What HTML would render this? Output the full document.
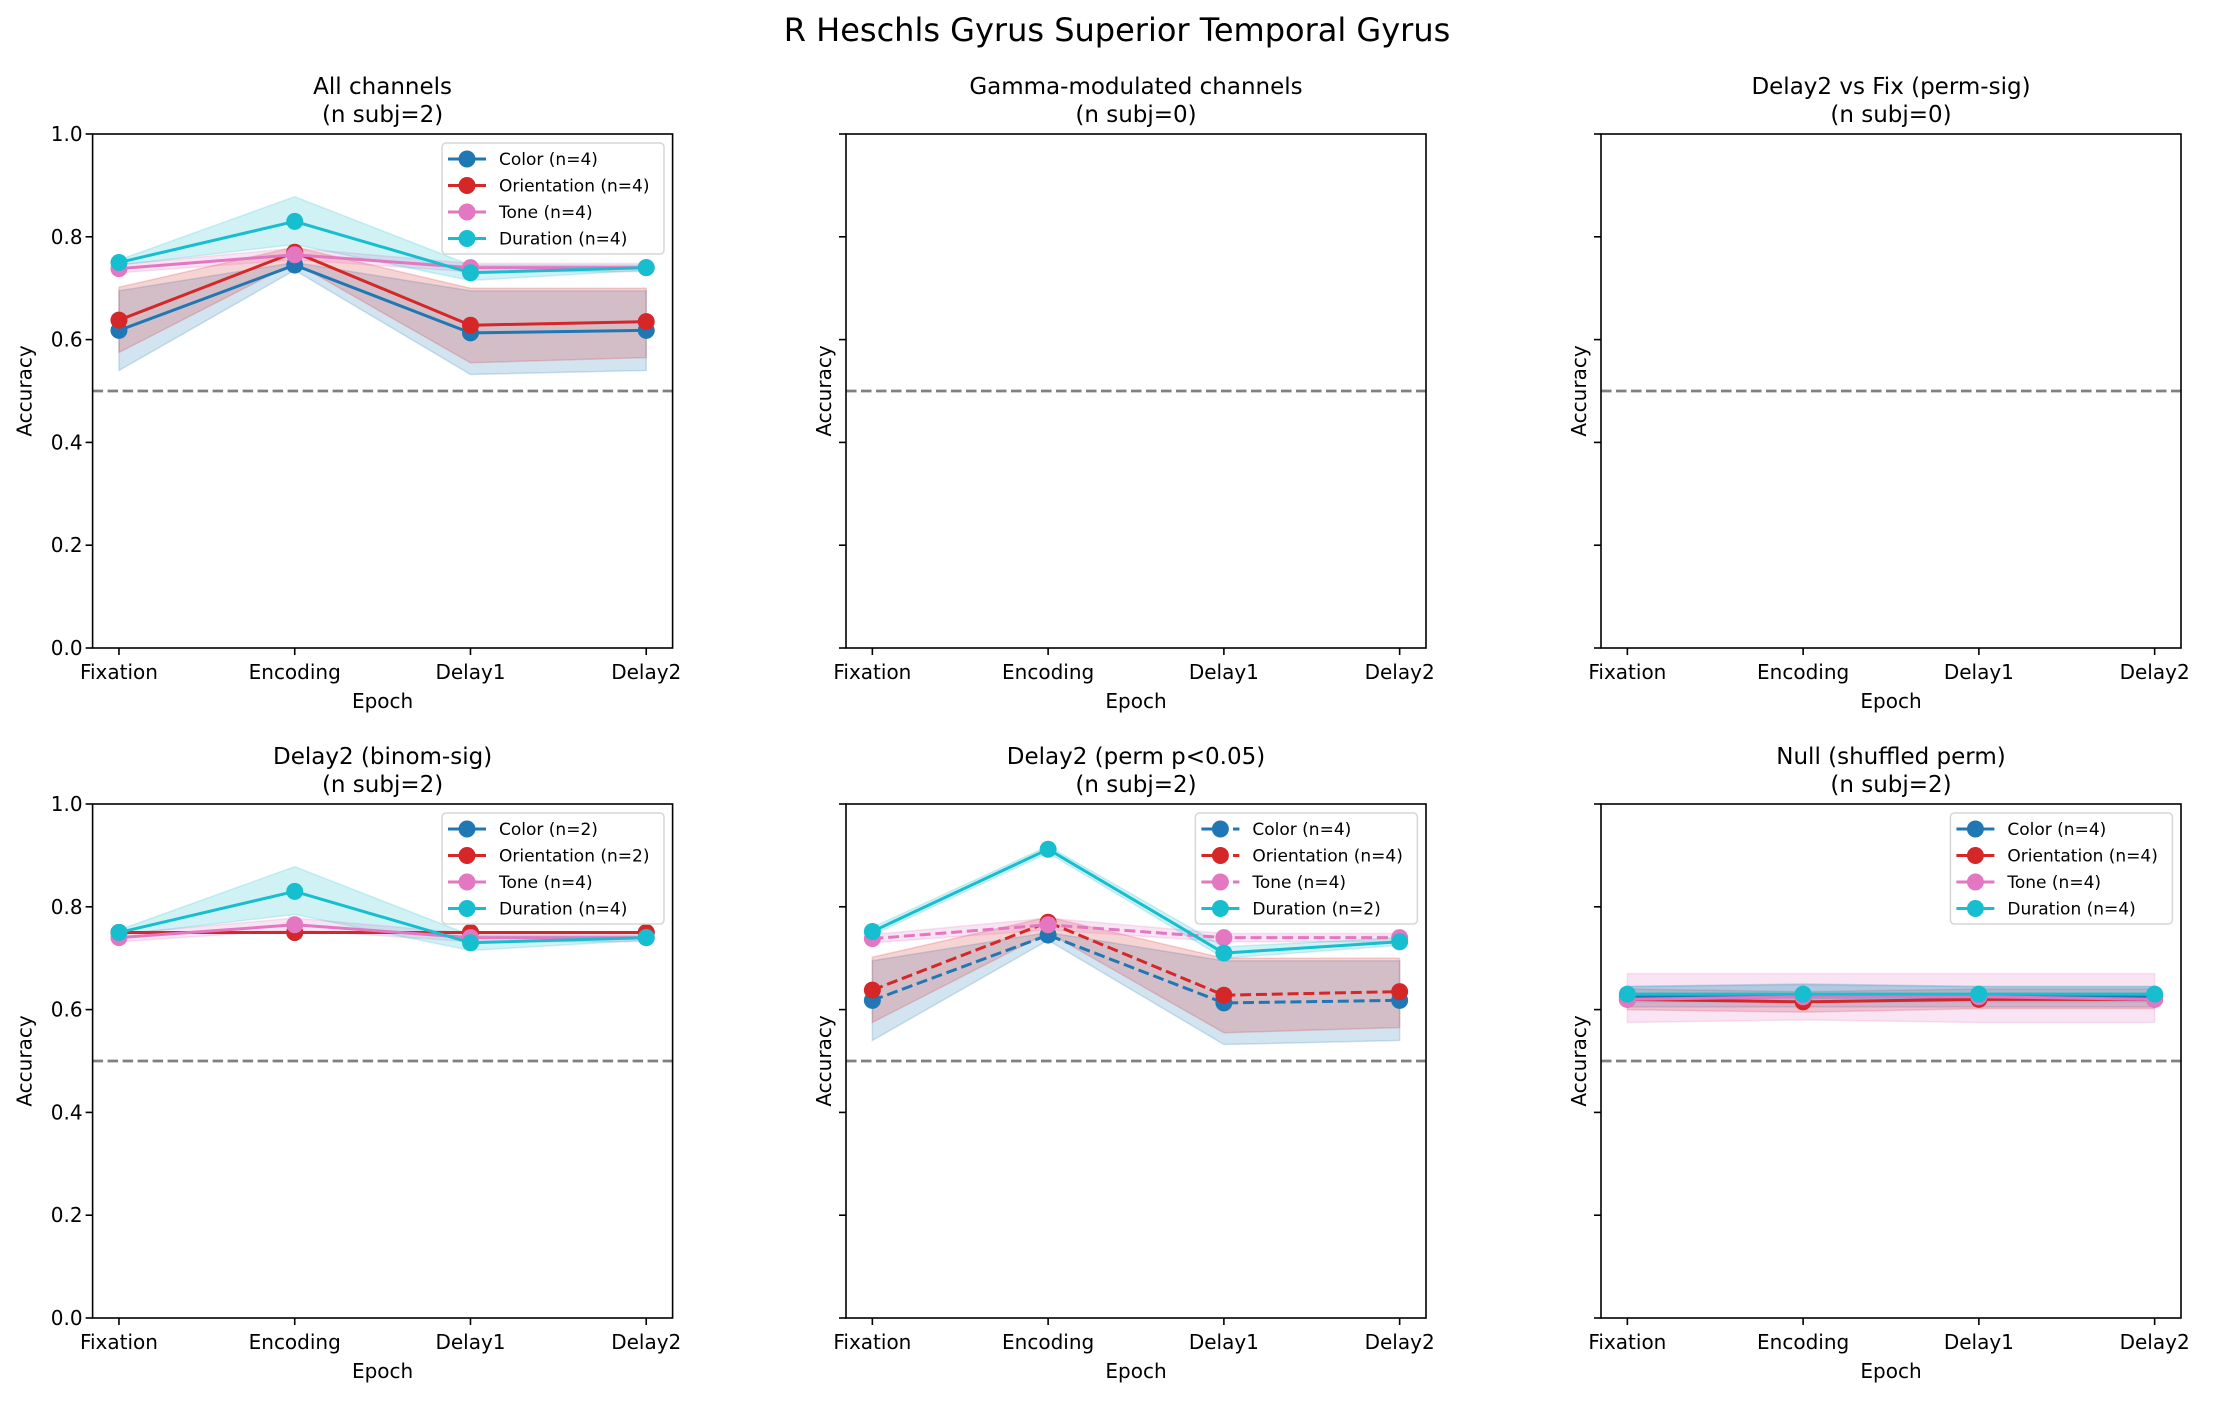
<!DOCTYPE html>
<html><head><meta charset="utf-8"><style>
html,body{margin:0;padding:0;background:#fff}
svg text{font-family:"DejaVu Sans","Liberation Sans",sans-serif;fill:#000}
</style></head><body>
<svg id="fig" width="2235" height="1397" viewBox="0 0 2235 1397" xmlns="http://www.w3.org/2000/svg">
<text x="1117" y="41" text-anchor="middle" font-size="32">R Heschls Gyrus Superior Temporal Gyrus</text>
</svg>
<script>
const epochs = ["Fixation","Encoding","Delay1","Delay2"];
const yTicks = [0.0,0.2,0.4,0.6,0.8,1.0];
const chance = 0.5;
const seriesNames = ["Color","Orientation","Tone","Duration"];
const colors = ["#1f77b4","#d62728","#e377c2","#17becf"];
// Panel 1: All channels
const p1Mean = [[0.618,0.745,0.613,0.618],[0.638,0.770,0.628,0.635],[0.738,0.765,0.740,0.740],[0.750,0.830,0.730,0.740]];
const p1Lo = [[0.540,0.735,0.532,0.540],[0.575,0.750,0.555,0.565],[0.730,0.755,0.732,0.732],[0.745,0.785,0.715,0.735]];
const p1Hi = [[0.695,0.750,0.695,0.695],[0.702,0.780,0.700,0.700],[0.746,0.778,0.748,0.748],[0.755,0.878,0.745,0.745]];
const p1N = [4,4,4,4];
// Panel 4: Delay2 binom-sig
const p4Mean = [[0.750,0.750,0.750,0.750],[0.750,0.750,0.750,0.750],[0.740,0.765,0.740,0.740],[0.750,0.830,0.730,0.740]];
const p4Lo = [[0.750,0.750,0.750,0.750],[0.750,0.750,0.750,0.750],[0.732,0.755,0.732,0.732],[0.745,0.785,0.715,0.735]];
const p4Hi = [[0.750,0.750,0.750,0.750],[0.750,0.750,0.750,0.750],[0.748,0.778,0.748,0.748],[0.755,0.878,0.745,0.745]];
const p4N = [2,2,4,4];
// Panel 5: Delay2 perm p<0.05
const p5Mean = [[0.618,0.745,0.613,0.618],[0.638,0.770,0.628,0.635],[0.738,0.765,0.740,0.740],[0.752,0.912,0.710,0.732]];
const p5Lo = [[0.540,0.735,0.532,0.540],[0.575,0.750,0.555,0.565],[0.730,0.755,0.732,0.732],[0.745,0.905,0.700,0.725]];
const p5Hi = [[0.695,0.750,0.695,0.695],[0.702,0.780,0.700,0.700],[0.746,0.778,0.748,0.748],[0.760,0.918,0.722,0.740]];
const p5N = [4,4,4,2];
// Panel 6: Null
const p6Mean = [[0.625,0.625,0.625,0.625],[0.620,0.615,0.620,0.620],[0.620,0.625,0.625,0.620],[0.630,0.630,0.630,0.630]];
const p6Lo = [[0.605,0.605,0.605,0.605],[0.600,0.595,0.602,0.602],[0.575,0.580,0.575,0.575],[0.615,0.615,0.615,0.615]];
const p6Hi = [[0.645,0.650,0.645,0.645],[0.640,0.635,0.640,0.640],[0.670,0.670,0.670,0.670],[0.645,0.648,0.645,0.645]];
const p6N = [4,4,4,4];

const NS="http://www.w3.org/2000/svg";
const svg=document.getElementById('fig');
function mk(tag,attrs,parent){const e=document.createElementNS(NS,tag);for(const k in attrs)e.setAttribute(k,attrs[k]);(parent||svg).appendChild(e);return e;}

const panels=[
 {t1:"All channels",t2:"(n subj=2)",L:92.6,T:134,mean:p1Mean,lo:p1Lo,hi:p1Hi,n:p1N,dash:[0,0,0,0],ylab:true,name:"all-channels"},
 {t1:"Gamma-modulated channels",t2:"(n subj=0)",L:846,T:134,mean:null,ylab:false,name:"gamma-modulated"},
 {t1:"Delay2 vs Fix (perm-sig)",t2:"(n subj=0)",L:1601,T:134,mean:null,ylab:false,name:"delay2-vs-fix"},
 {t1:"Delay2 (binom-sig)",t2:"(n subj=2)",L:92.6,T:804,mean:p4Mean,lo:p4Lo,hi:p4Hi,n:p4N,dash:[0,0,0,0],ylab:true,name:"delay2-binom"},
 {t1:"Delay2 (perm p<0.05)",t2:"(n subj=2)",L:846,T:804,mean:p5Mean,lo:p5Lo,hi:p5Hi,n:p5N,dash:[1,1,1,0],ylab:false,name:"delay2-perm"},
 {t1:"Null (shuffled perm)",t2:"(n subj=2)",L:1601,T:804,mean:p6Mean,lo:p6Lo,hi:p6Hi,n:p6N,dash:[0,0,0,0],ylab:false,name:"null-shuffled"}
];
const W=580,H=514;
panels.forEach(p=>{
 const g=mk('g',{});
 
 
 const xs=i=>p.L+(i+0.15)/3.3*W;
 const ys=v=>p.T+H-v*H;
 const cx=p.L+W/2;
 const t1=mk('text',{x:cx,y:p.T-40,'text-anchor':'middle','font-size':23},g);t1.textContent=p.t1;
 
 const t2=mk('text',{x:cx,y:p.T-12,'text-anchor':'middle','font-size':23},g);t2.textContent=p.t2;
 
 const ch=mk('line',{x1:p.L,x2:p.L+W,y1:ys(chance),y2:ys(chance),stroke:'#808080','stroke-width':2.8,'stroke-dasharray':'10.5,4.5'},g);
 
 if(p.mean){
  for(let s=0;s<4;s++){
   let pts=[];
   for(let i=0;i<4;i++)pts.push(xs(i)+','+ys(p.hi[s][i]));
   for(let i=3;i>=0;i--)pts.push(xs(i)+','+ys(p.lo[s][i]));
   const b=mk('polygon',{points:pts.join(' '),fill:colors[s],'fill-opacity':0.2,stroke:colors[s],'stroke-opacity':0.2,'stroke-width':1.5},g);
   
  }
  for(let s=0;s<4;s++){
   const pts=p.mean[s].map((v,i)=>xs(i)+','+ys(v)).join(' ');
   const a={points:pts,fill:'none',stroke:colors[s],'stroke-width':3};
   if(p.dash[s])a['stroke-dasharray']='11,4.8';
   const l=mk('polyline',a,g);
   
   p.mean[s].forEach((v,i)=>{
    const c=mk('circle',{cx:xs(i),cy:ys(v),r:8.5,fill:colors[s]},g);
    
   });
  }
  const lg=mk('g',{},g);
  
  const lw=222;
  const lx=p.L+W-8.6-lw,ly=p.T+9;
  mk('rect',{x:lx,y:ly,width:lw,height:111,rx:4,fill:'#fff','fill-opacity':0.8,stroke:'#d6d6d6','stroke-width':1.5},lg);
  for(let s=0;s<4;s++){
   const ey=ly+16+s*26.5;
   const a={x1:lx+6,x2:lx+44,y1:ey,y2:ey,stroke:colors[s],'stroke-width':3};
   if(p.dash[s])a['stroke-dasharray']='11,4.8';
   mk('line',a,lg);
   mk('circle',{cx:lx+25,cy:ey,r:8.5,fill:colors[s]},lg);
   const tx=mk('text',{x:lx+57,y:ey+6,'font-size':17},lg);
   tx.textContent=seriesNames[s]+' (n='+p.n[s]+')';
   
  }
 }
 const fr=mk('rect',{x:p.L,y:p.T,width:W,height:H,fill:'none',stroke:'#000','stroke-width':1.6},g);
 
 yTicks.forEach(v=>{
  mk('line',{x1:p.L-7,x2:p.L,y1:ys(v),y2:ys(v),stroke:'#000','stroke-width':1.6},g);
  if(p.ylab){const t=mk('text',{x:p.L-10,y:ys(v)+7,'text-anchor':'end','font-size':20},g);t.textContent=v.toFixed(1);
   }
 });
 epochs.forEach((e,i)=>{
  mk('line',{x1:xs(i),x2:xs(i),y1:p.T+H,y2:p.T+H+7,stroke:'#000','stroke-width':1.6},g);
  const t=mk('text',{x:xs(i),y:p.T+H+31,'text-anchor':'middle','font-size':20},g);t.textContent=e;
  
 });
 const xl=mk('text',{x:cx,y:p.T+H+60,'text-anchor':'middle','font-size':20},g);xl.textContent='Epoch';
 
 const yx=p.L-(p.ylab?61:15);
 const yl=mk('text',{x:yx,y:p.T+H/2,'text-anchor':'middle','font-size':20,transform:'rotate(-90 '+yx+' '+(p.T+H/2)+')'},g);yl.textContent='Accuracy';
 
});
</script>
</body></html>
